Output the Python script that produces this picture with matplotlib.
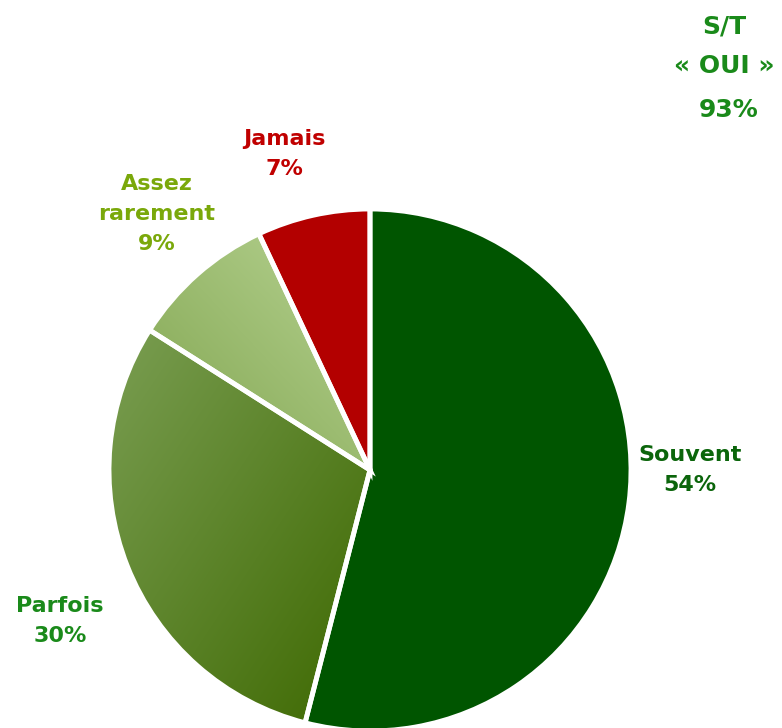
import numpy as np
import matplotlib.pyplot as plt
from matplotlib.colors import LinearSegmentedColormap

labels = ["Souvent", "Parfois", "Assez\nrarement", "Jamais"]
values = [54, 30, 9, 7]
label_colors = ["#0b650b", "#1a8a1a", "#7aa80a", "#c00000"]
total_lines = ["S/T", "« OUI »"]
total_value = 93

plt.rcParams['font.family'] = ['DejaVu Sans']

fig = plt.figure(figsize=(7.82, 7.28), dpi=100)
ax = fig.add_axes([0, 0, 1, 1])

cx, cy, r = 370, 728 - 470, 261
wedges, _ = ax.pie(values, startangle=90, counterclock=False, radius=r,
                   center=(cx, cy),
                   colors=["#005500", "#5a8530", "#9cbb70", "#b30000"],
                   wedgeprops=dict(linewidth=0))

# gradient fills for the two lighter green slices
grads = {
    1: (["#7a9e52", "#3d6800"], -1),   # upper-left -> lower-right
    2: (["#80a44e", "#b8d494"], 1),    # lower-left -> upper-right
}
for idx, (cols, d) in grads.items():
    w = wedges[idx]
    cmap = LinearSegmentedColormap.from_list("g%d" % idx, cols)
    yy, xx = np.mgrid[0:1:200j, 0:1:200j]
    z = (xx + (1 - yy)) / 2 if d < 0 else (xx + yy) / 2
    bb = w.get_path().get_extents(w.get_patch_transform())
    im = ax.imshow(z, cmap=cmap, origin="lower",
                   extent=(bb.x0, bb.x1, bb.y0, bb.y1), zorder=1.5,
                   interpolation="bilinear")
    im.set_clip_path(w)

# white separators on top
ax.pie(values, startangle=90, counterclock=False, radius=r, center=(cx, cy),
       colors=["none"] * len(values),
       wedgeprops=dict(edgecolor="white", linewidth=3.5, zorder=3))

ax.set_xlim(0, 782)
ax.set_ylim(0, 728)
ax.set_aspect("equal")
ax.axis("off")

label_pos = [(690, 728 - 470), (60, 728 - 621), (157, 728 - 214), (284, 728 - 154)]
for lab, v, col, (x, y) in zip(labels, values, label_colors, label_pos):
    ax.text(x, y, "%s\n%d%%" % (lab, v), color=col, fontsize=16,
            fontweight="bold", ha="center", va="center", linespacing=1.65,
            zorder=5)

st_col = "#1a8a1a"
ax.text(724, 728 - 27, total_lines[0], color=st_col, fontsize=18,
        fontweight="bold", ha="center", va="center")
ax.text(724, 728 - 66, total_lines[1], color=st_col, fontsize=18,
        fontweight="bold", ha="center", va="center")
ax.text(729, 728 - 110, "%d%%" % total_value, color=st_col, fontsize=18,
        fontweight="bold", ha="center", va="center")

fig.savefig("out.png", dpi=100)
